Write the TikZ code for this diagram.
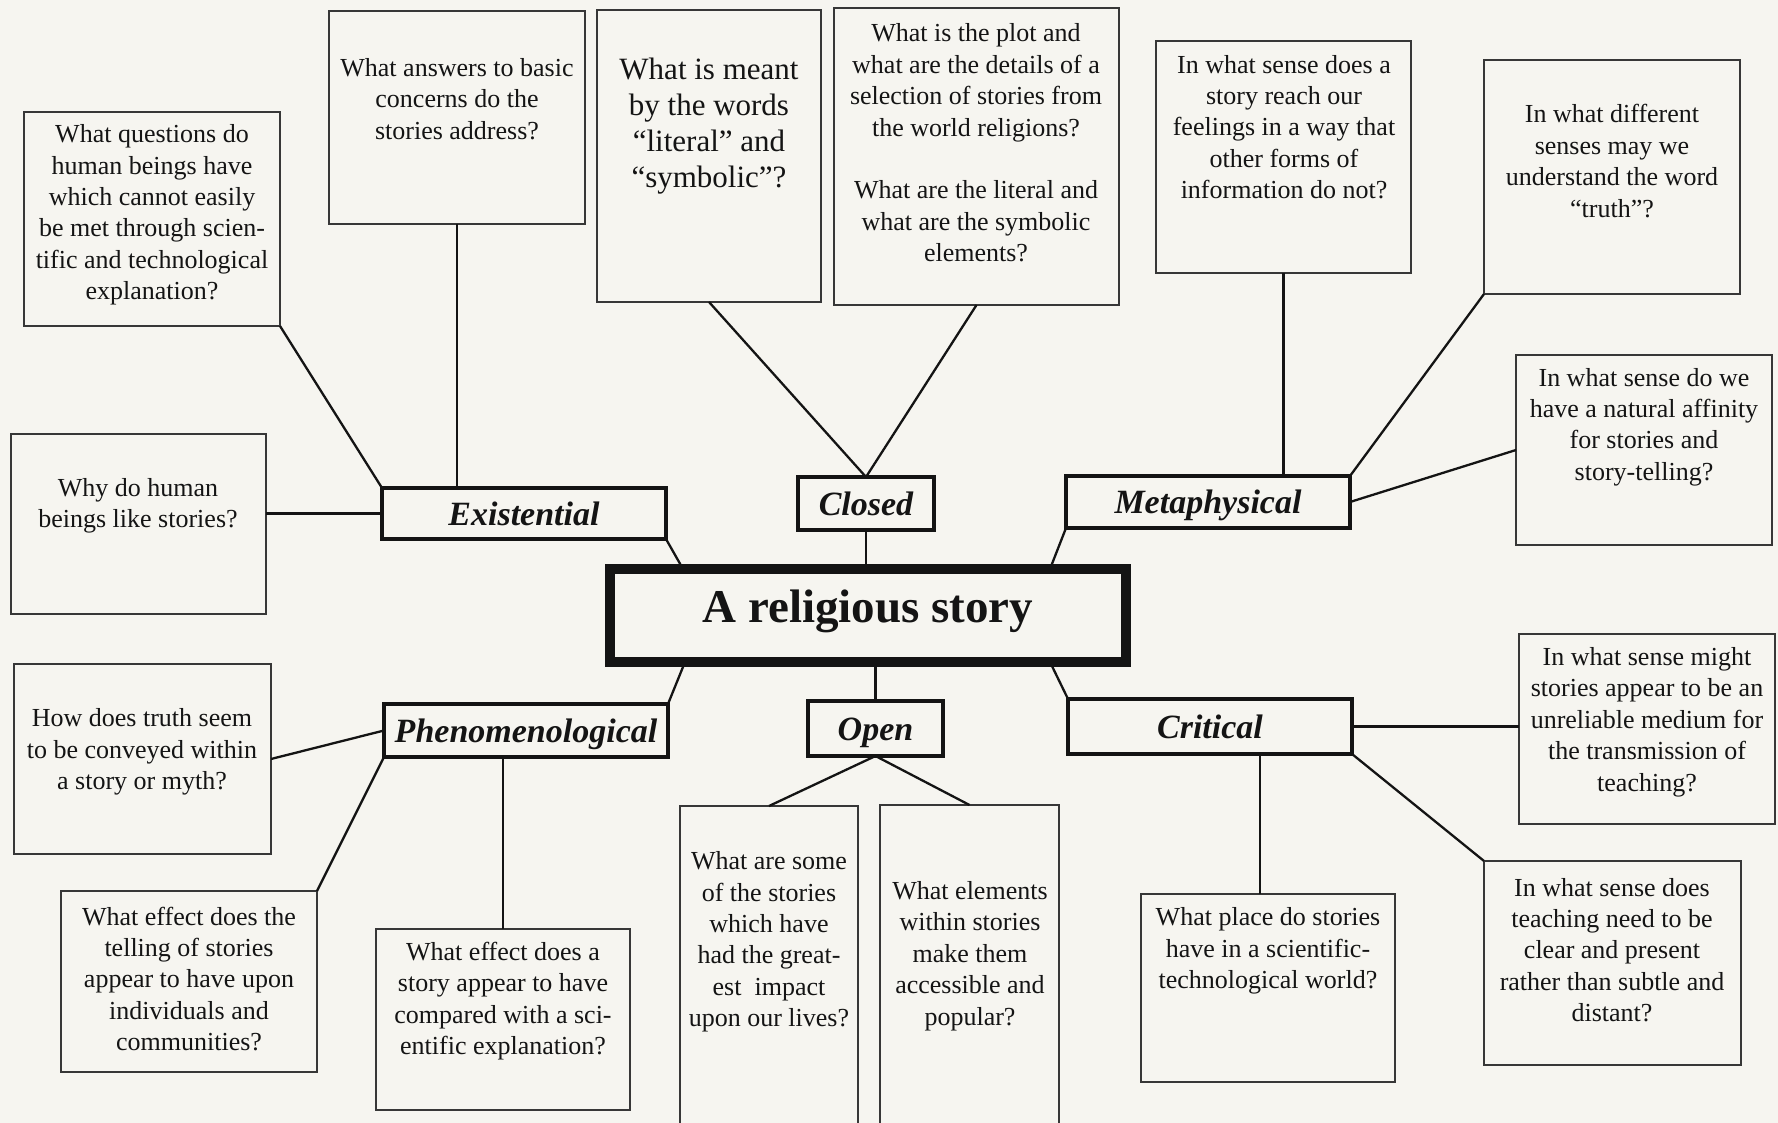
\documentclass[tikz,border=0pt]{standalone}
\usepackage{fontspec}
\setmainfont{Liberation Serif}
\usetikzlibrary{fit,calc}
\definecolor{bgc}{RGB}{246,245,240}
\definecolor{ink}{RGB}{20,20,20}
\begin{document}
\begin{tikzpicture}[x=0.5pt,y=-0.5pt,
  qbox/.style={draw=ink!85, line width=0.6pt, inner sep=0pt, outer sep=0pt},
  qtext/.style={align=center, font=\fontsize{13}{15.7}\selectfont, inner sep=0pt, text=ink},
  bigtext/.style={align=center, font=\fontsize{15.5}{18.1}\selectfont, inner sep=0pt, text=ink},
  catbox/.style={draw=ink, line width=2.4pt, inner sep=0pt, outer sep=0pt},
  cattext/.style={font=\fontsize{17}{20}\selectfont\bfseries\itshape, inner sep=0pt, text=ink, text height=11.6pt, text depth=0pt},
  ctrbox/.style={draw=ink, line width=4.7pt, inner sep=0pt, outer sep=0pt},
  ctrtext/.style={font=\fontsize{23.5}{28}\selectfont\bfseries, inner sep=0pt, text=ink},
  link/.style={draw=ink, line width=1.15pt},
]
\useasboundingbox (0,0) rectangle (1778,1123);
\clip (0,0) rectangle (1778,1123);
\fill[bgc] (0,0) rectangle (1778,1123);

% question boxes
\node[qbox, fit={(24,112) (280,326)}] (q1) {};
\node[qbox, fit={(329,11) (585,224)}] (q2) {};
\node[qbox, fit={(11,434) (266,614)}] (q3) {};
\node[qbox, fit={(597,10) (821,302)}] (q4) {};
\node[qbox, fit={(834,8) (1119,305)}] (q5) {};
\node[qbox, fit={(1156,41) (1411,273)}] (q6) {};
\node[qbox, fit={(1484,60) (1740,294)}] (q7) {};
\node[qbox, fit={(1516,355) (1772,545)}] (q8) {};
\node[qbox, fit={(14,664) (271,854)}] (q9) {};
\node[qbox, fit={(61,891) (317,1072)}] (q10) {};
\node[qbox, fit={(376,929) (630,1110)}] (q11) {};
\node[qbox, fit={(680,806) (858,1140)}] (q12) {};
\node[qbox, fit={(880,805) (1059,1140)}] (q13) {};
\node[qbox, fit={(1519,634) (1775,824)}] (q14) {};
\node[qbox, fit={(1141,894) (1395,1082)}] (q15) {};
\node[qbox, fit={(1484,861) (1741,1065)}] (q16) {};

% texts
\node[qtext] (t1) at (152,215) {What questions do\\human beings have\\which cannot easily\\be met through scien-\\tific and technological\\explanation?};
\node[qtext] (t2) at (457,99) {What answers to basic\\concerns do the\\stories address?};
\node[qtext] (t3) at (138,506) {Why do human\\beings like stories?};
\node[bigtext] (t4) at (709,126) {What is meant\\by the words\\“literal” and\\“symbolic”?};
\node[qtext] (t5) at (976,143) {What is the plot and\\what are the details of a\\selection of stories from\\the world religions?\\[15.7pt]What are the literal and\\what are the symbolic\\elements?};
\node[qtext] (t6) at (1284,127) {In what sense does a\\story reach our\\feelings in a way that\\other forms of\\information do not?};
\node[qtext] (t7) at (1612,161) {In what different\\senses may we\\understand the word\\“truth”?};
\node[qtext] (t8) at (1644,427) {In what sense do we\\have a natural affinity\\for stories and\\story-telling?};
\node[qtext] (t9) at (142,752) {How does truth seem\\to be conveyed within\\a story or myth?};
\node[qtext] (t10) at (189,979) {What effect does the\\telling of stories\\appear to have upon\\individuals and\\communities?};
\node[qtext] (t11) at (503,1001) {What effect does a\\story appear to have\\compared with a sci-\\entific explanation?};
\node[qtext] (t12) at (769,942) {What are some\\of the stories\\which have\\had the great-\\est\ \ impact\\upon our lives?};
\node[qtext] (t13) at (970,956) {What elements\\within stories\\make them\\accessible and\\popular?};
\node[qtext] (t14) at (1647,722) {In what sense might\\stories appear to be an\\unreliable medium for\\the transmission of\\teaching?};
\node[qtext] (t15) at (1268,951) {What place do stories\\have in a scientific-\\technological world?};
\node[qtext] (t16) at (1612,950) {In what sense does\\teaching need to be\\clear and present\\rather than subtle and\\distant?};

% category boxes
\node[catbox, fit={(382,488) (666,539)}] (ex) {};
\node[catbox, fit={(798,477) (934,530)}] (cl) {};
\node[catbox, fit={(1066,476) (1350,528)}] (me) {};
\node[catbox, fit={(384,704) (668,757)}] (ph) {};
\node[catbox, fit={(808,701) (943,756)}] (op) {};
\node[catbox, fit={(1068,699) (1352,754)}] (cr) {};
\node[ctrbox, fit={(610,569) (1126,662)}] (ctr) {};

\node[cattext] (tex) at (ex.center) {Existential};
\node[cattext] (tcl) at (cl.center) {Closed};
\node[cattext] (tme) at (me.center) {Metaphysical};
\node[cattext] (tph) at (ph.center) {Phenomenological};
\node[cattext] (top) at (op.center) {Open};
\node[cattext] (tcr) at (cr.center) {Critical};
\node[ctrtext] (tctr) at (868,611) {A religious story};

\coordinate (ctrnw) at ($(ctr.north west)+(73,0)$);
\coordinate (ctrne) at ($(ctr.north east)+(-76,0)$);
\coordinate (ctrsw) at ($(ctr.south west)+(75,0)$);
\coordinate (ctrse) at ($(ctr.south east)+(-76,0)$);
\coordinate (q15top) at ($(q15.north west)+(119,0)$);

% connectors
\draw[link] (q1.south east) -- (ex.north west);
\draw[link] (q2.south) -- (q2.south |- ex.north);
\draw[link] (ex.west) -- (ex.west -| q3.east);
\draw[link] (q4.south) -- (cl.north);
\draw[link] (q5.south) -- (cl.north);
\draw[link] (cl.south) -- (cl.south |- ctr.north);
\draw[link] (ex.south east) -- (ctrnw);
\draw[link] (me.south west) -- (ctrne);
\draw[link] (ph.north east) -- (ctrsw);
\draw[link] (cr.north west) -- (ctrse);
\draw[link] (op.north) -- (op.north |- ctr.south);
\draw[link] (q6.south) -- (q6.south |- me.north);
\draw[link] (q7.south west) -- (me.north east);
\draw[link] (me.east) -- (q8.west);
\draw[link] (q9.east) -- (ph.west);
\draw[link] (ph.south west) -- (q10.north east);
\draw[link] (q11.north) -- (q11.north |- ph.south);
\draw[link] (op.south) -- (q12.north);
\draw[link] (op.south) -- (q13.north);
\draw[link] (cr.east) -- (cr.east -| q14.west);
\draw[link] (q15top) -- (q15top |- cr.south);
\draw[link] (cr.south east) -- (q16.north west);
\end{tikzpicture}
\end{document}
